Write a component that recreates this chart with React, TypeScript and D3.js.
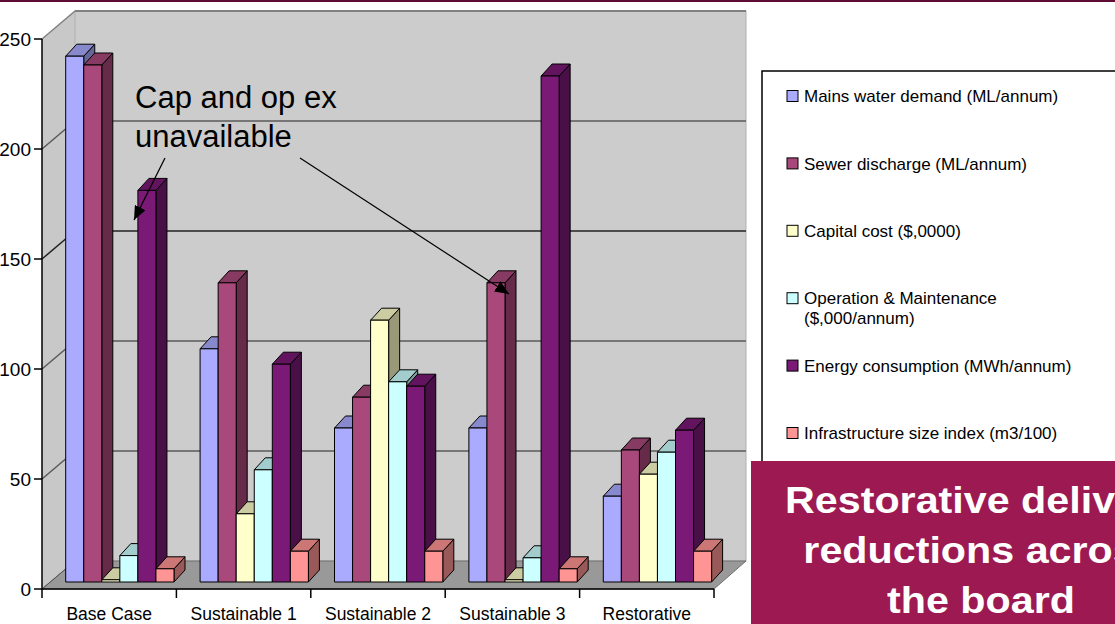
import React from 'react';
import * as d3 from 'd3';

const categories = ['Base Case', 'Sustainable 1', 'Sustainable 2', 'Sustainable 3', 'Restorative'];
const seriesNames = [
  'Mains water demand (ML/annum)',
  'Sewer discharge (ML/annum)',
  'Capital cost ($,0000)',
  'Operation & Maintenance ($,000/annum)',
  'Energy consumption (MWh/annum)',
  'Infrastructure size index (m3/100)',
];
const legendLines = [
  ['Mains water demand (ML/annum)'],
  ['Sewer discharge (ML/annum)'],
  ['Capital cost ($,0000)'],
  ['Operation & Maintenance', '($,000/annum)'],
  ['Energy consumption (MWh/annum)'],
  ['Infrastructure size index (m3/100)'],
];
const mains = [239, 106, 70, 70, 39];
const sewer = [235, 136, 84, 136, 60];
const capital = [1, 31, 119, 1, 49];
const om = [12, 51, 91, 11, 59];
const energy = [178, 99, 89, 230, 69];
const infra = [6, 14, 14, 6, 14];
const seriesValues = [mains, sewer, capital, om, energy, infra];
const seriesColors = ['#aaaaff', '#a9487a', '#ffffcc', '#ccffff', '#7a1a76', '#ff9494'];
const yTicks = [0, 50, 100, 150, 200, 250];
const calloutLines = ['Cap and op ex', 'unavailable'];
const bannerLines = ['Restorative delivers', 'reductions across', 'the board'];

const FONT = "'Liberation Sans', Arial, Helvetica, sans-serif";

function shade(c: string, k: number) {
  const r = d3.rgb(c);
  return d3.rgb(r.r * k, r.g * k, r.b * k).formatHex();
}

export default function App() {
  const W = 1115, H = 624;
  const x = d3.scaleBand<string>().domain(categories).range([42, 714]);
  const inner = d3.scaleBand<string>().domain(seriesNames).range([23.7, 132]);
  const h = d3.scaleLinear().domain([0, 250]).range([0, 550]);
  const frontBase = 589, backBase = 561, barBase = 582;
  const wdx = 33; // wall depth
  const bdx = 11, bdy = 12; // bar depth
  const left = 42, right = 714;
  const legendY = d3.scaleLinear().domain([0, 5]).range([96, 433]);

  const bars: JSX.Element[] = [];
  categories.forEach((c, i) => {
    seriesNames.forEach((s, j) => {
      const v = seriesValues[j][i];
      const x0 = (x(c) as number) + (inner(s) as number);
      const w = inner.bandwidth();
      const top = barBase - h(v);
      const col = seriesColors[j];
      bars.push(
        <g key={`${i}-${j}`} stroke="#000" strokeWidth={1} strokeLinejoin="round">
          <polygon
            points={`${x0 + w},${top} ${x0 + w + bdx},${top - bdy} ${x0 + w + bdx},${barBase - bdy} ${x0 + w},${barBase}`}
            fill={shade(col, 0.6)}
          />
          <polygon
            points={`${x0},${top} ${x0 + bdx},${top - bdy} ${x0 + w + bdx},${top - bdy} ${x0 + w},${top}`}
            fill={shade(col, 0.8)}
          />
          <rect x={x0} y={top} width={w} height={h(v)} fill={col} />
        </g>
      );
    });
  });

  const boundaries = [...categories.map((c) => x(c) as number), right];

  return (
    <svg width={W} height={H} style={{ position: 'absolute', left: 0, top: 0, background: '#fff' }} fontFamily={FONT}>
      <rect x={0} y={0} width={W} height={H} fill="#fff" />
      <rect x={0} y={0} width={W} height={2} fill="#5e0c36" />
      {/* side wall */}
      <polygon
        points={`${left},${frontBase - h(250)} ${left + wdx},${backBase - h(250)} ${left + wdx},${backBase} ${left},${frontBase}`}
        fill="#c8c8c8"
      />
      {/* back wall */}
      <rect x={left + wdx} y={backBase - h(250)} width={746 - left - wdx} height={h(250)} fill="#cccccc" stroke="#b0b0b0" strokeWidth={1} />
      <line x1={left + wdx} x2={746} y1={backBase - h(250)} y2={backBase - h(250)} stroke="#808080" strokeWidth={2} />
      <line x1={left} x2={left + wdx} y1={frontBase - h(250)} y2={backBase - h(250)} stroke="#808080" strokeWidth={1.5} />
      {/* floor */}
      <polygon
        points={`${left},${frontBase} ${right},${frontBase} ${746},${backBase} ${left + wdx},${backBase}`}
        fill="#999999"
        stroke="#707070"
        strokeWidth={1}
      />
      {/* gridlines */}
      {yTicks.filter((t) => t > 0 && t < 250).map((t) => (
        <g key={t} stroke={t === 150 ? '#222' : '#5a5a5a'} strokeWidth={1.5}>
          <line x1={left} y1={frontBase - h(t)} x2={left + wdx} y2={backBase - h(t)} />
          <line x1={left + wdx} y1={backBase - h(t)} x2={746} y2={backBase - h(t)} />
        </g>
      ))}
      <line x1={left} y1={frontBase} x2={left + wdx} y2={backBase} stroke="#555" strokeWidth={1} />
      {bars}
      {/* axes */}
      <line x1={left} y1={frontBase - h(250)} x2={left} y2={frontBase} stroke="#000" strokeWidth={1.5} />
      <line x1={left} y1={frontBase} x2={right} y2={frontBase} stroke="#000" strokeWidth={1.5} />
      {yTicks.map((t) => (
        <g key={t}>
          <line x1={left - 8} x2={left} y1={frontBase - h(t)} y2={frontBase - h(t)} stroke="#000" strokeWidth={1.5} />
          <text x={31} y={frontBase - h(t)} dy="0.36em" textAnchor="end" fontSize={19} fill="#000">{t}</text>
        </g>
      ))}
      {boundaries.map((b, i) => (
        <line key={i} x1={b} x2={b} y1={frontBase} y2={frontBase + 9} stroke="#000" strokeWidth={1.5} />
      ))}
      {categories.map((c) => (
        <text key={c} x={(x(c) as number) + x.bandwidth() / 2} y={620} textAnchor="middle" fontSize={17.5} fill="#000">{c}</text>
      ))}
      {/* callout */}
      <defs>
        <marker id="ah" markerUnits="userSpaceOnUse" markerWidth={14} markerHeight={12} refX={14} refY={6} orient="auto">
          <path d="M0,0 L14,6 L0,12 Z" fill="#000" />
        </marker>
      </defs>
      {calloutLines.map((l, i) => (
        <text key={l} x={135} y={108 + i * 39} fontSize={31} fill="#000">{l}</text>
      ))}
      <line x1={165} y1={158} x2={134} y2={220} stroke="#000" strokeWidth={1.2} markerEnd="url(#ah)" />
      <line x1={300} y1={158} x2={509} y2={294} stroke="#000" strokeWidth={1.2} markerEnd="url(#ah)" />
      {/* legend */}
      <rect x={762} y={71} width={420} height={420} fill="#fff" stroke="#000" strokeWidth={1.5} />
      {legendLines.map((lines, i) => (
        <g key={i}>
          <rect x={787} y={legendY(i) - 5.5} width={11} height={11} fill={seriesColors[i]} stroke="#000" strokeWidth={1} />
          {lines.map((l, k) => (
            <text key={k} x={804} y={legendY(i) + k * 20} dy="0.36em" fontSize={17} fill="#000">{l}</text>
          ))}
        </g>
      ))}
      {/* banner */}
      <rect x={751} y={461} width={400} height={170} fill="#9d1951" />
      {bannerLines.map((l, i) => (
        <text
          key={l}
          transform={`translate(981,${513 + i * 50}) scale(1.115,1)`}
          textAnchor="middle"
          fontSize={37}
          fontWeight="bold"
          fill="#fff"
        >
          {l}
        </text>
      ))}
    </svg>
  );
}
